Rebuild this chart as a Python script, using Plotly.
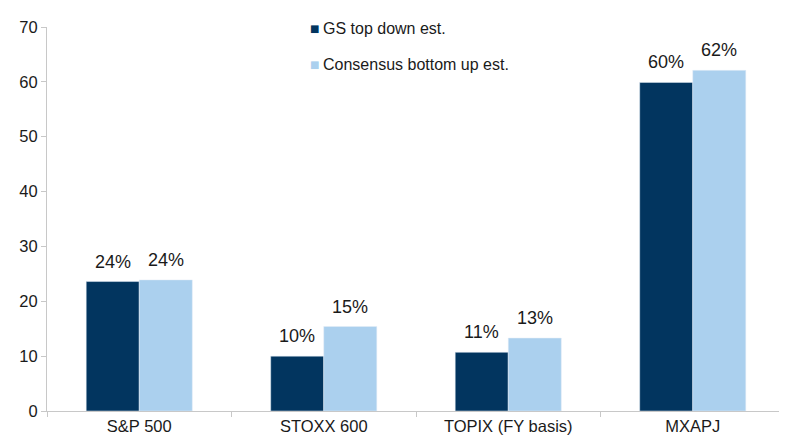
import plotly.graph_objects as go

# index names on the x axis
indices = ["S&P 500", "STOXX 600", "TOPIX (FY basis)", "MXAPJ"]

# bar heights
gsTopDown = [23.6, 10.0, 10.7, 59.9]
consensusBottomUp = [23.9, 15.4, 13.3, 62.1]

# labels printed above the bars
gsLabels = ["24%", "10%", "11%", "60%"]
consensusLabels = ["24%", "15%", "13%", "62%"]

seriesNames = ["GS top down est.", "Consensus bottom up est."]

darkBlue = "#02355F"
lightBlue = "#ABD0EE"
fontFamily = "Liberation Sans, Arial"
textColor = "#1a1a1a"

fig = go.Figure()
fig.add_trace(go.Bar(x=indices, y=gsTopDown, name=seriesNames[0], marker_color=darkBlue))
fig.add_trace(go.Bar(x=indices, y=consensusBottomUp, name=seriesNames[1], marker_color=lightBlue))

# value labels sit a bit higher above the bars than plotly's outside text
for vals, labels, shift in [(gsTopDown, gsLabels, -26.5), (consensusBottomUp, consensusLabels, 26.5)]:
    for cat, v, lab in zip(indices, vals, labels):
        fig.add_annotation(x=cat, y=v, text=lab, showarrow=False, xshift=shift,
                           yanchor="bottom", yshift=8,
                           font=dict(family=fontFamily, size=18, color=textColor))

# hand-made legend: small squares and text
for i, (nm, col) in enumerate(zip(seriesNames, [darkBlue, lightBlue])):
    yPos = 0.995 - i * 0.092
    fig.add_annotation(xref="paper", yref="paper", x=0.354, y=yPos, xanchor="left", yanchor="middle",
                       text="<span style='color:%s'>■</span>" % col, showarrow=False,
                       font=dict(family="DejaVu Sans", size=10))
    fig.add_annotation(xref="paper", yref="paper", x=0.3715, y=yPos, xanchor="left", yanchor="middle",
                       text=nm, showarrow=False,
                       font=dict(family=fontFamily, size=16, color=textColor))

# the page has an 8px body margin, so the margins are reduced by that
fig.update_layout(
    width=787, height=445,
    margin=dict(l=39, r=10, t=11, b=42),
    barmode="group", bargap=0.425, bargroupgap=0,
    plot_bgcolor="white", paper_bgcolor="white",
    font=dict(family=fontFamily, size=16.5, color=textColor),
    showlegend=False,
)
fig.update_yaxes(range=[0, 70], dtick=10, showgrid=False, zeroline=False,
                 showline=True, linecolor="#C8C8C8", linewidth=1,
                 ticks="outside", ticklen=5, tickcolor="#C8C8C8")
fig.update_xaxes(showgrid=False, showline=True, linecolor="#C8C8C8", linewidth=1,
                 ticks="outside", tickson="boundaries", ticklen=5, tickcolor="#C8C8C8")

fig.write_html("out.html")
